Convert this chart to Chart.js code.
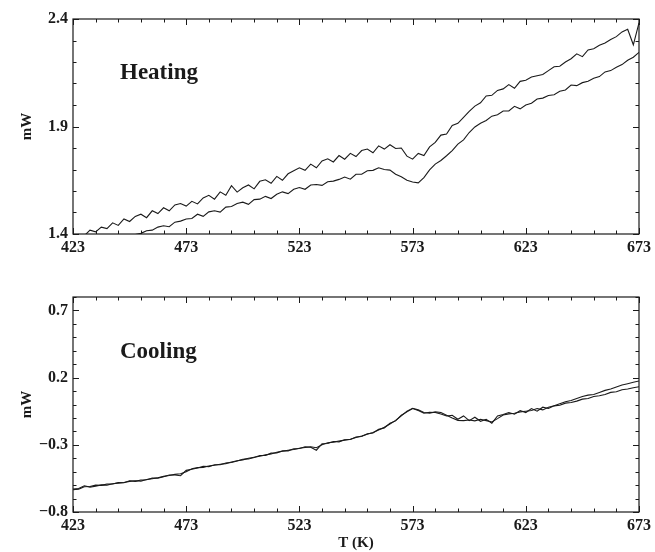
<!DOCTYPE html>
<html>
<head>
<meta charset="utf-8">
<script src="https://cdn.jsdelivr.net/npm/chart.js@4/dist/chart.umd.min.js"></script>
<style>
  html, body { margin: 0; padding: 0; background: #fff; }
  #wrap { position: relative; width: 655px; height: 552px; overflow: hidden; }
  canvas { position: absolute; left: 0; }
  #c1 { top: 0; }
  #c2 { top: 270px; }
</style>
</head>
<body>
<div id="wrap">
  <canvas id="c1" width="655" height="270"></canvas>
  <canvas id="c2" width="655" height="282"></canvas>
</div>
<script>
// Temperature (K)
const temps = [
  423,425.5,428,430.5,433,435.5,438,440.5,443,445.5,
  448,450.5,453,455.5,458,460.5,463,465.5,468,470.5,
  473,475.5,478,480.5,483,485.5,488,490.5,493,495.5,
  498,500.5,503,505.5,508,510.5,513,515.5,518,520.5,
  523,525.5,528,530.5,533,535.5,538,540.5,543,545.5,
  548,550.5,553,555.5,558,560.5,563,565.5,568,570.5,
  573,575.5,578,580.5,583,585.5,588,590.5,593,595.5,
  598,600.5,603,605.5,608,610.5,613,615.5,618,620.5,
  623,625.5,628,630.5,633,635.5,638,640.5,643,645.5,
  648,650.5,653,655.5,658,660.5,663,665.5,668,670.5,
  673
];

// Heating, upper trace (mW)
const heatingUpper = [
  1.385,1.398,1.392,1.418,1.410,1.432,1.425,1.452,1.440,1.470,
  1.458,1.482,1.492,1.476,1.508,1.495,1.522,1.508,1.535,1.542,
  1.530,1.552,1.540,1.568,1.580,1.562,1.596,1.580,1.625,1.595,
  1.615,1.628,1.610,1.645,1.652,1.636,1.668,1.650,1.680,1.694,
  1.708,1.696,1.725,1.708,1.740,1.750,1.735,1.765,1.748,1.775,
  1.760,1.788,1.795,1.778,1.810,1.795,1.815,1.798,1.800,1.762,
  1.748,1.775,1.765,1.805,1.826,1.860,1.865,1.905,1.915,1.942,
  1.970,1.995,2.010,2.042,2.045,2.068,2.075,2.095,2.078,2.110,
  2.115,2.130,2.136,2.142,2.160,2.178,2.180,2.200,2.215,2.238,
  2.225,2.256,2.262,2.278,2.288,2.305,2.318,2.340,2.352,2.280,
  2.382
];

// Heating, lower trace (mW)
const heatingLower = [
  1.310,1.320,1.323,1.335,1.338,1.350,1.354,1.366,1.370,1.382,
  1.386,1.398,1.403,1.415,1.418,1.432,1.438,1.434,1.455,1.460,
  1.470,1.472,1.492,1.482,1.503,1.508,1.502,1.525,1.528,1.542,
  1.548,1.538,1.560,1.562,1.575,1.565,1.585,1.596,1.588,1.608,
  1.616,1.608,1.628,1.630,1.626,1.643,1.646,1.654,1.665,1.655,
  1.678,1.678,1.694,1.696,1.708,1.700,1.697,1.678,1.666,1.650,
  1.642,1.638,1.662,1.698,1.725,1.742,1.764,1.788,1.818,1.838,
  1.872,1.898,1.915,1.928,1.948,1.955,1.972,1.972,1.994,1.982,
  2.000,2.008,2.028,2.032,2.044,2.048,2.064,2.070,2.093,2.090,
  2.104,2.110,2.124,2.132,2.154,2.160,2.176,2.188,2.208,2.222,
  2.245
];

// Cooling, trace A (mW)
const coolingA = [
  -0.630,-0.625,-0.605,-0.615,-0.608,-0.598,-0.600,-0.590,-0.585,-0.580,
  -0.572,-0.568,-0.570,-0.558,-0.552,-0.545,-0.535,-0.528,-0.520,-0.515,
  -0.500,-0.478,-0.470,-0.468,-0.458,-0.452,-0.445,-0.440,-0.428,-0.418,
  -0.412,-0.400,-0.392,-0.385,-0.375,-0.368,-0.355,-0.348,-0.340,-0.335,
  -0.325,-0.320,-0.315,-0.322,-0.300,-0.285,-0.280,-0.272,-0.265,-0.258,
  -0.245,-0.235,-0.222,-0.208,-0.190,-0.170,-0.145,-0.118,-0.085,-0.050,
  -0.028,-0.040,-0.060,-0.065,-0.055,-0.060,-0.080,-0.100,-0.118,-0.120,
  -0.115,-0.122,-0.110,-0.120,-0.130,-0.105,-0.078,-0.070,-0.065,-0.055,
  -0.050,-0.045,-0.030,-0.040,-0.020,-0.010,0.005,0.020,0.030,0.045,
  0.060,0.070,0.075,0.090,0.105,0.115,0.130,0.145,0.155,0.165,
  0.175
];

// Cooling, trace B (mW)
const coolingB = [
  -0.635,-0.630,-0.612,-0.610,-0.600,-0.602,-0.592,-0.592,-0.580,-0.582,
  -0.568,-0.572,-0.562,-0.560,-0.548,-0.548,-0.538,-0.525,-0.525,-0.530,
  -0.490,-0.482,-0.472,-0.460,-0.462,-0.448,-0.448,-0.435,-0.432,-0.420,
  -0.408,-0.405,-0.395,-0.380,-0.380,-0.362,-0.360,-0.345,-0.345,-0.330,
  -0.328,-0.315,-0.318,-0.340,-0.292,-0.290,-0.275,-0.278,-0.262,-0.260,
  -0.242,-0.238,-0.218,-0.212,-0.185,-0.175,-0.140,-0.122,-0.080,-0.055,
  -0.030,-0.045,-0.065,-0.058,-0.060,-0.070,-0.085,-0.080,-0.110,-0.085,
  -0.120,-0.095,-0.125,-0.110,-0.140,-0.085,-0.075,-0.060,-0.072,-0.045,
  -0.060,-0.030,-0.050,-0.020,-0.030,-0.010,-0.005,0.010,0.015,0.025,
  0.040,0.045,0.060,0.065,0.075,0.090,0.095,0.110,0.115,0.125,
  0.132
];

// Tick labels
const xTickLabels = [423, 473, 523, 573, 623, 673];
const yTickLabelsHeating = [1.4, 1.9, 2.4];
const yTickLabelsCooling = [-0.8, -0.3, 0.2, 0.7];

const SERIF = "'Liberation Serif', 'Times New Roman', serif";
const INK = '#1a1a1a';

function pts(ys) { return temps.map((t, i) => ({ x: t, y: ys[i] })); }
function near(a, b) { return Math.abs(a - b) < 1e-6; }
function fmtY(v) { return v < 0 ? '\u2212' + Math.abs(v).toFixed(1) : v.toFixed(1); }

const framePlugin = {
  id: 'frame',
  afterDraw(chart, args, opts) {
    const { ctx, chartArea: a } = chart;
    const xs = chart.scales.x, ys = chart.scales.y;
    ctx.save();
    ctx.strokeStyle = INK;
    ctx.lineWidth = 1.2;
    ctx.strokeRect(a.left, a.top, a.right - a.left, a.bottom - a.top);
    ctx.lineWidth = 1;
    ctx.beginPath();
    xs.ticks.forEach(t => {
      const px = Math.round(xs.getPixelForValue(t.value)) + 0.5;
      const major = xTickLabels.some(v => near(v, t.value));
      const L = major ? 6 : 3.5;
      ctx.moveTo(px, a.bottom); ctx.lineTo(px, a.bottom - L);
      ctx.moveTo(px, a.top); ctx.lineTo(px, a.top + L);
    });
    ys.ticks.forEach(t => {
      const py = Math.round(ys.getPixelForValue(t.value)) + 0.5;
      const major = opts.yLabels.some(v => near(v, t.value));
      const L = major ? 6 : 3.5;
      ctx.moveTo(a.left, py); ctx.lineTo(a.left + L, py);
      ctx.moveTo(a.right, py); ctx.lineTo(a.right - L, py);
    });
    ctx.stroke();
    ctx.fillStyle = INK;
    ctx.font = 'bold 23px ' + SERIF;
    ctx.textAlign = 'left';
    ctx.textBaseline = 'alphabetic';
    ctx.fillText(opts.label, a.left + opts.dx, a.top + opts.dy);
    ctx.restore();
  }
};

function makeChart(id, datasets, yMin, yMax, yLabels, label, dy, xTitle, xHeight) {
  return new Chart(document.getElementById(id), {
    type: 'line',
    data: {
      datasets: datasets.map(d => ({
        data: pts(d),
        borderColor: INK,
        borderWidth: 1.1,
        pointRadius: 0,
        tension: 0,
        fill: false
      }))
    },
    options: {
      responsive: false,
      animation: false,
      events: [],
      layout: { padding: { left: 0, right: 14, top: id === 'c1' ? 19 : 27, bottom: 0 } },
      plugins: {
        legend: { display: false },
        tooltip: { enabled: false },
        frame: { yLabels: yLabels, label: label, dx: 47, dy: dy }
      },
      scales: {
        x: {
          type: 'linear',
          min: 423, max: 673,
          border: { display: false },
          grid: { display: false, drawTicks: false },
          ticks: {
            stepSize: 10,
            autoSkip: false,
            maxRotation: 0,
            padding: 4,
            color: INK,
            font: { family: SERIF, weight: 'bold', size: 16 },
            callback: v => xTickLabels.some(l => near(l, v)) ? String(Math.round(v)) : ''
          },
          title: {
            display: !!xTitle,
            text: xTitle || '',
            color: INK,
            font: { family: SERIF, weight: 'bold', size: 15 },
            padding: { top: 0, bottom: 0 }
          },
          afterFit: s => { s.height = xHeight; }
        },
        y: {
          type: 'linear',
          min: yMin, max: yMax,
          border: { display: false },
          grid: { display: false, drawTicks: false },
          ticks: {
            stepSize: 0.1,
            autoSkip: false,
            padding: 5,
            color: INK,
            font: { family: SERIF, weight: 'bold', size: 16 },
            callback: v => yLabels.some(l => near(l, v)) ? fmtY(v) : ''
          },
          title: {
            display: true,
            text: 'mW',
            color: INK,
            font: { family: SERIF, weight: 'bold', size: 15 },
            padding: { top: 18, bottom: 0 }
          },
          afterFit: s => { s.width = 73; }
        }
      }
    },
    plugins: [framePlugin]
  });
}

makeChart('c1', [heatingUpper, heatingLower], 1.4, 2.4, yTickLabelsHeating, 'Heating', 60, null, 36);
makeChart('c2', [coolingA, coolingB], -0.8, 0.8, yTickLabelsCooling, 'Cooling', 61, 'T (K)', 40);
</script>
</body>
</html>
